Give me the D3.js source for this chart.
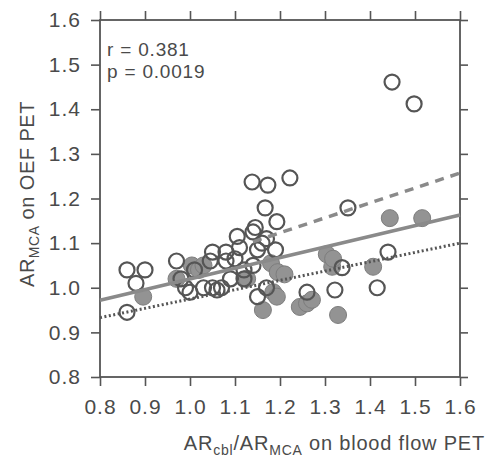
<!DOCTYPE html>
<html>
<head>
<meta charset="utf-8">
<script src="https://cdn.jsdelivr.net/npm/d3@7"></script>
<style>
  body { margin: 0; background: #fff; }
  svg { display: block; font-family: 'Liberation Sans', Arial, sans-serif; }
  .eje path { display: none; }
  .eje line { stroke: #555; stroke-width: 1.6; }
  .eje text { fill: #4a4a4a; font-size: 21px; letter-spacing: 1px; font-family: 'Liberation Sans', Arial, sans-serif; }
</style>
</head>
<body>
<div id="graf"></div>
<script>
// datos: [AR cbl/MCA flujo, AR MCA OEF]
abiertos = [
  [0.86, 1.04], [0.90, 1.04], [0.88, 1.01], [0.86, 0.945],
  [0.97, 1.06], [0.98, 1.02], [0.99, 1.00], [1.00, 0.99], [1.01, 1.04],
  [1.05, 1.08], [1.045, 1.06], [1.08, 1.08], [1.03, 1.00], [1.05, 1.00],
  [1.06, 0.995], [1.07, 1.00], [1.09, 1.02], [1.10, 1.065], [1.105, 1.115],
  [1.11, 1.09], [1.14, 1.125], [1.145, 1.135], [1.16, 1.10], [1.15, 1.085],
  [1.17, 1.11], [1.14, 1.05], [1.12, 1.02], [1.15, 0.98], [1.17, 1.00],
  [1.19, 1.085], [1.138, 1.237], [1.173, 1.23], [1.222, 1.246], [1.167, 1.179],
  [1.193, 1.148], [1.26, 0.99], [1.322, 0.995], [1.338, 1.045], [1.351, 1.179],
  [1.44, 1.08], [1.416, 1.00], [1.449, 1.461], [1.498, 1.412], [1.12, 1.04],
  [1.08, 1.06]
]
llenos = [
  [0.896, 0.98], [0.97, 1.02], [1.004, 1.05], [1.02, 1.04], [1.03, 1.05],
  [1.127, 1.02], [1.18, 1.055], [1.195, 1.035], [1.21, 1.03], [1.185, 0.99],
  [1.193, 0.98], [1.162, 0.95], [1.244, 0.957], [1.26, 0.965], [1.271, 0.973],
  [1.304, 1.075], [1.316, 1.047], [1.318, 1.065], [1.329, 0.939], [1.407, 1.047],
  [1.444, 1.156], [1.516, 1.156]
]
// rectas de regresion (extremos)
lineaTotal = [[0.8, 0.972], [1.6, 1.163]]
lineaAbiertos = [[1.14, 1.103], [1.6, 1.257]]
lineaLlenos = [[0.8, 0.933], [1.6, 1.10]]

ticks = [0.8, 0.9, 1.0, 1.1, 1.2, 1.3, 1.4, 1.5, 1.6]
anotacion = ['r = 0.381', 'p = 0.0019']

ancho_total = 489
alto_total = 458

svg = d3.select('#graf').append('svg')
        .attr('width', ancho_total)
        .attr('height', alto_total)

x = d3.scaleLinear().domain([0.8, 1.6]).range([100, 460])
y = d3.scaleLinear().domain([0.8, 1.6]).range([377, 20])

fmt = d3.format('.1f')

// -- ejes --
svg.append('g').attr('class', 'eje')
   .attr('transform', 'translate(0, 377)')
   .call(d3.axisBottom(x).tickValues(ticks).tickSize(9).tickPadding(13).tickFormat(fmt))
svg.append('g').attr('class', 'eje')
   .attr('transform', 'translate(100, 0)')
   .call(d3.axisLeft(y).tickValues(ticks).tickSize(9).tickPadding(10).tickFormat(fmt))
svg.append('g').attr('class', 'eje')
   .attr('transform', 'translate(0, 20)')
   .call(d3.axisTop(x).tickValues(ticks).tickSize(9).tickFormat(''))
svg.append('g').attr('class', 'eje')
   .attr('transform', 'translate(460, 0)')
   .call(d3.axisRight(y).tickValues(ticks).tickSize(8).tickFormat(''))

svg.append('rect')
   .attr('x', x(0.8)).attr('y', y(1.6))
   .attr('width', x(1.6) - x(0.8)).attr('height', y(0.8) - y(1.6))
   .attr('fill', 'none').attr('stroke', '#555').attr('stroke-width', 1.8)

linea = d3.line().x(d => x(d[0])).y(d => y(d[1]))

// -- puntos --
svg.append('g').selectAll('circle')
   .data(llenos).enter().append('circle')
   .attr('cx', d => x(d[0])).attr('cy', d => y(d[1])).attr('r', 8.5)
   .attr('fill', '#939393').attr('stroke', '#7d7d7d').attr('stroke-width', 1)

svg.append('g').selectAll('circle')
   .data(abiertos).enter().append('circle')
   .attr('cx', d => x(d[0])).attr('cy', d => y(d[1])).attr('r', 7.5)
   .attr('fill', 'none').attr('stroke', '#555').attr('stroke-width', 2.2)

// -- rectas --
svg.append('path').datum(lineaTotal).attr('d', linea)
   .attr('stroke', '#8a8a8a').attr('stroke-width', 3.5).attr('fill', 'none')
svg.append('path').datum(lineaAbiertos).attr('d', linea)
   .attr('stroke', '#8a8a8a').attr('stroke-width', 3.5).attr('fill', 'none')
   .attr('stroke-dasharray', '9,7')
svg.append('path').datum(lineaLlenos).attr('d', linea)
   .attr('stroke', '#555').attr('stroke-width', 3).attr('fill', 'none')
   .attr('stroke-dasharray', '2,2.5')

// -- textos --
svg.selectAll('.anot').data(anotacion).enter().append('text')
   .attr('class', 'anot')
   .attr('x', 107).attr('y', (d, i) => 56 + i * 22)
   .attr('fill', '#4a4a4a').style('font-size', '19px').style('letter-spacing', '0.8px')
   .text(d => d)

tx = svg.append('text')
        .attr('x', 485).attr('y', 450)
        .attr('text-anchor', 'end')
        .attr('fill', '#4a4a4a').style('font-size', '20px').style('letter-spacing', '0.8px')
tx.append('tspan').text('AR')
tx.append('tspan').text('cbl').attr('dy', 5).style('font-size', '14px')
tx.append('tspan').text('/AR').attr('dy', -5)
tx.append('tspan').text('MCA').attr('dy', 5).style('font-size', '14px')
tx.append('tspan').text(' on blood flow PET').attr('dy', -5)

ty = svg.append('text')
        .attr('transform', 'translate(34, 194) rotate(-90)')
        .attr('text-anchor', 'middle')
        .attr('fill', '#4a4a4a').style('font-size', '20px').style('letter-spacing', '0.5px')
ty.append('tspan').text('AR')
ty.append('tspan').text('MCA').attr('dy', 5).style('font-size', '14px')
ty.append('tspan').text(' on OEF PET').attr('dy', -5)
</script>
</body>
</html>
